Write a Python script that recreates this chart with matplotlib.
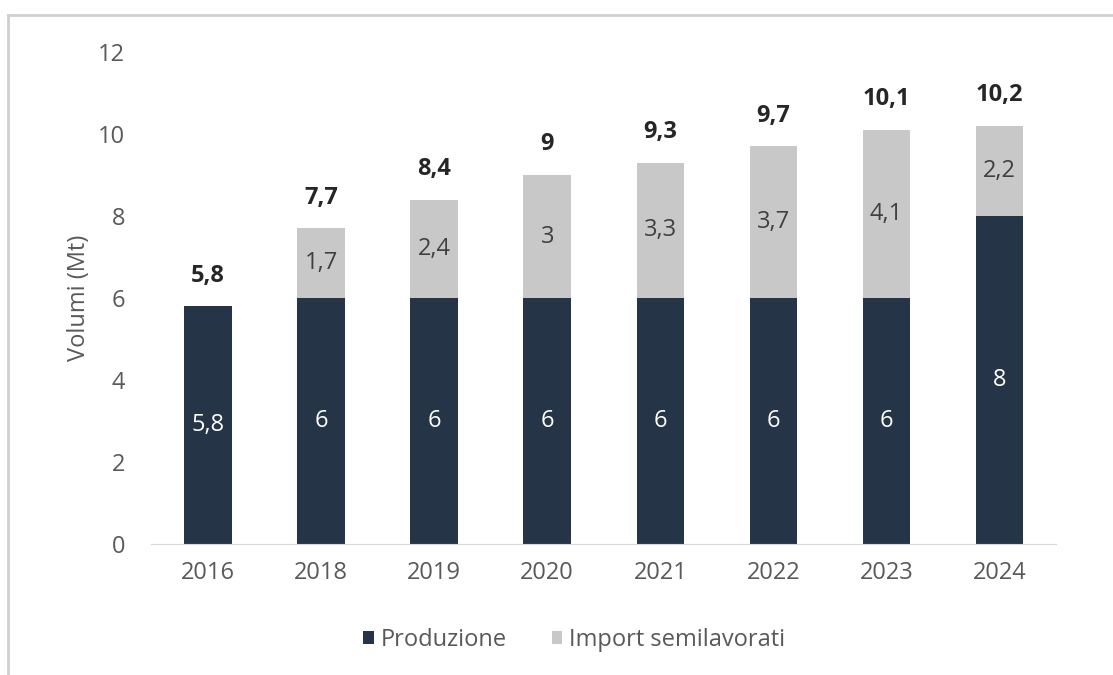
import matplotlib.pyplot as plt
from matplotlib.lines import Line2D
import numpy as np

plt.rcParams['font.family'] = ['Open Sans', 'DejaVu Sans']

years = ["2016", "2018", "2019", "2020", "2021", "2022", "2023", "2024"]
produzione = [5.8, 6, 6, 6, 6, 6, 6, 8]
import_semi = [0, 1.7, 2.4, 3, 3.3, 3.7, 4.1, 2.2]
totali = [5.8, 7.7, 8.4, 9, 9.3, 9.7, 10.1, 10.2]

DARK = "#263447"
LIGHT = "#c8c8c8"
TEXT = "#595959"


def fmt(v):
    s = f"{v:.1f}".rstrip("0").rstrip(".")
    return s.replace(".", ",")


fig = plt.figure(figsize=(11.13, 6.75), dpi=100)
ax = fig.add_axes([0.136, 0.194, 0.813, 0.729])

x = np.arange(len(years))
width = 0.42
ax.bar(x, produzione, width, color=DARK, label="Produzione")
ax.bar(x, import_semi, width, bottom=produzione, color=LIGHT,
       label="Import semilavorati")

for i in range(len(years)):
    ax.text(x[i], produzione[i] / 2, fmt(produzione[i]), ha="center",
            va="center", color="white", fontsize=17)
    if import_semi[i] > 0:
        ax.text(x[i], produzione[i] + import_semi[i] / 2, fmt(import_semi[i]),
                ha="center", va="center", color="#404040", fontsize=17)
    ax.annotate(fmt(totali[i]), (x[i], totali[i]), xytext=(0, 22),
                textcoords="offset points", ha="center", va="center",
                fontsize=17, fontweight="bold", color="#262626")

ax.set_xlim(-0.5, len(years) - 0.5)
ax.set_ylim(0, 12)
ax.set_yticks(range(0, 13, 2))
ax.set_xticks(x)
ax.set_xticklabels(years)
ax.tick_params(axis="both", length=0, labelsize=17, labelcolor=TEXT)
ax.tick_params(axis="y", pad=19)
ax.tick_params(axis="x", pad=12)
for side in ("top", "right", "left"):
    ax.spines[side].set_visible(False)
ax.spines["bottom"].set_color("#d9d9d9")
ax.set_ylabel("Volumi (Mt)", fontsize=17, color=TEXT, labelpad=5)

fig.legend(loc="center", bbox_to_anchor=(0.516, 0.052), ncol=2, frameon=False,
           fontsize=17, labelcolor=TEXT, handlelength=0.45, handleheight=0.45,
           handletextpad=0.3, columnspacing=1.9)

# outer frame along the top and left edges
fig.add_artist(Line2D([0.0072, 0.0072], [0, 0.978], transform=fig.transFigure,
                      color="#cfcfcf", lw=2))
fig.add_artist(Line2D([0.0072, 1], [0.978, 0.978], transform=fig.transFigure,
                      color="#cfcfcf", lw=2))

fig.savefig("out.png", dpi=100)
